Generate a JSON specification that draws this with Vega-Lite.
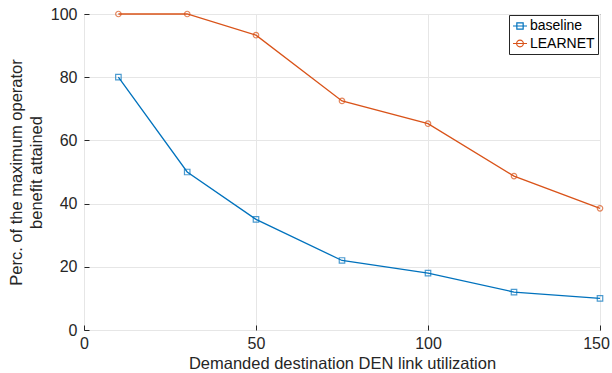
{
  "$schema": "https://vega.github.io/schema/vega-lite/v6.json",
  "width": 516,
  "height": 316,
  "autosize": {"type": "none"},
  "padding": {"left": 84, "top": 14, "right": 12, "bottom": 43},
  "background": "white",
  "config": {
    "font": "Liberation Sans",
    "view": {"stroke": "#262626", "strokeWidth": 1},
    "axis": {"labelFont": "Liberation Sans", "titleFont": "Liberation Sans", "labelColor": "#262626", "titleColor": "#262626", "titleFontWeight": "normal", "gridColor": "#e6e6e6", "gridWidth": 1, "domain": false, "ticks": true, "tickColor": "#262626", "tickSize": -5, "tickWidth": 1, "labelFontSize": 16, "titleFontSize": 16.5, "labelFlush": false}
  },
  "data": {
    "values": [
      {"x": 10, "y": 80, "s": "baseline"},
      {"x": 30, "y": 50, "s": "baseline"},
      {"x": 50, "y": 35, "s": "baseline"},
      {"x": 75, "y": 22, "s": "baseline"},
      {"x": 100, "y": 18, "s": "baseline"},
      {"x": 125, "y": 12, "s": "baseline"},
      {"x": 150, "y": 10, "s": "baseline"},
      {"x": 10, "y": 100, "s": "LEARNET"},
      {"x": 30, "y": 100, "s": "LEARNET"},
      {"x": 50, "y": 93.3, "s": "LEARNET"},
      {"x": 75, "y": 72.5, "s": "LEARNET"},
      {"x": 100, "y": 65.3, "s": "LEARNET"},
      {"x": 125, "y": 48.7, "s": "LEARNET"},
      {"x": 150, "y": 38.5, "s": "LEARNET"}
    ]
  },
  "encoding": {
    "x": {"field": "x", "type": "quantitative", "scale": {"domain": [0, 150], "nice": false}, "axis": {"values": [0, 50, 100, 150], "title": "Demanded destination DEN link utilization", "labelPadding": 10, "titlePadding": 4, "labelOffset": {"condition": {"test": "datum.value >= 150", "value": -4}, "value": 0}}},
    "y": {"field": "y", "type": "quantitative", "scale": {"domain": [0, 100], "nice": false}, "axis": {"values": [0, 20, 40, 60, 80, 100], "title": ["Perc. of the maximum operator", "benefit attained"], "labelPadding": 12, "titlePadding": 6, "titleLineHeight": 20}},
    "color": {"field": "s", "type": "nominal", "scale": {"domain": ["baseline", "LEARNET"], "range": ["#0072BD", "#D95319"]}, "legend": {
      "title": null, "orient": "none", "legendX": 425, "legendY": 1,
      "strokeColor": "#262626", "fillColor": "white", "padding": 3,
      "labelFontSize": 14, "labelColor": "#000", "labelOffset": 2,
      "symbolSize": 196, "symbolStrokeWidth": 1.2, "symbolFillColor": "transparent", "rowPadding": 2.5,
      "encode": {"symbols": {"update": {"shape": {"signal": "datum.value === 'baseline' ? 'M-1,0H1M-0.45,-0.45H0.45V0.45H-0.45Z' : 'M-1,0H1M-0.48,0A0.48,0.48 0 1,0 0.48,0A0.48,0.48 0 1,0 -0.48,0'"}}}}
    }}
  },
  "layer": [
    {"mark": {"type": "line", "strokeWidth": 1.3, "clip": false}},
    {"transform": [{"filter": "datum.s === 'baseline'"}], "mark": {"type": "point", "shape": "square", "filled": false, "size": 30, "strokeWidth": 1.2, "clip": false}},
    {"transform": [{"filter": "datum.s === 'LEARNET'"}], "mark": {"type": "point", "shape": "circle", "filled": false, "size": 30, "strokeWidth": 1.2, "clip": false}}
  ]
}
